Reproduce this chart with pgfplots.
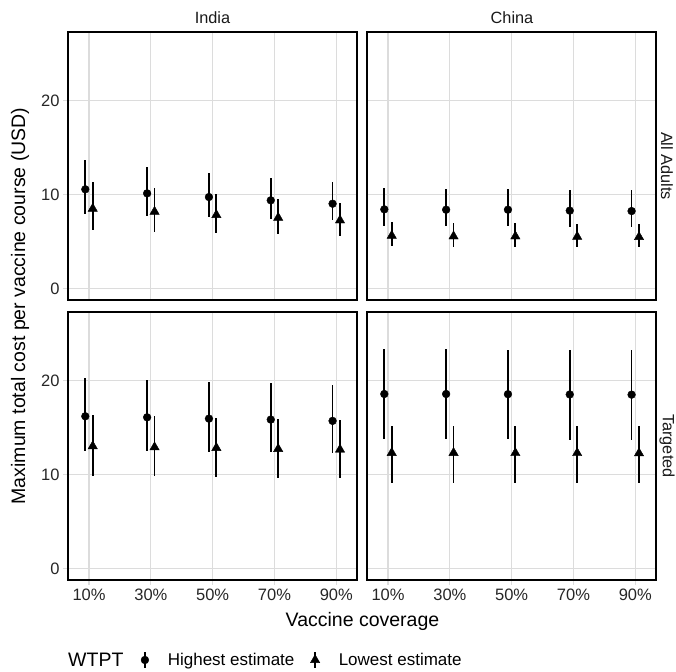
\documentclass[border=0pt]{standalone}
\usepackage{fontspec}
\setmainfont{Liberation Sans}
\usepackage{pgfplots}
\usepackage{pgfplotstable}
\pgfplotsset{compat=1.18}

% cov = vaccine coverage; h* = highest estimate, l* = lowest estimate
\pgfplotstableread{
cov hy    hlo   hhi   ly   llo  lhi
10  10.57 7.98  13.72 8.51 6.20 11.35
30  10.14 7.77  12.98 8.19 6.06 10.67
50  9.75  7.59  12.34 7.84 5.92 10.07
70  9.40  7.45  11.81 7.55 5.78 9.54
90  9.04  7.27  11.31 7.27 5.64 9.08
}\indiaall
\pgfplotstableread{
cov hy   hlo  hhi   ly   llo  lhi
10  8.44 6.70 10.71 5.64 4.50 7.06
30  8.40 6.63 10.64 5.57 4.47 6.99
50  8.40 6.63 10.60 5.57 4.43 6.95
70  8.30 6.60 10.53 5.53 4.43 6.91
90  8.26 6.56 10.46 5.50 4.43 6.88
}\chinaall
\pgfplotstableread{
cov hy    hlo   hhi   ly    llo  lhi
10  16.21 12.57 20.25 13.03 9.81 16.35
30  16.10 12.50 20.07 12.92 9.81 16.21
50  15.96 12.46 19.89 12.85 9.73 16.07
70  15.86 12.39 19.72 12.74 9.70 15.93
90  15.72 12.35 19.54 12.67 9.63 15.79
}\indiatarg
\pgfplotstableread{
cov hy    hlo   hhi   ly    llo  lhi
10  18.58 13.80 23.36 12.32 9.10 15.22
30  18.58 13.78 23.36 12.32 9.10 15.22
50  18.56 13.76 23.30 12.30 9.08 15.20
70  18.53 13.72 23.27 12.30 9.08 15.20
90  18.51 13.70 23.26 12.28 9.07 15.18
}\chinatarg

\definecolor{gridgrey}{RGB}{220,220,220}
\newcommand{\tickfont}{\fontsize{16.5bp}{19bp}\selectfont}
\newcommand{\stripfont}{\fontsize{16.3bp}{19bp}\selectfont}
\newcommand{\titlefont}{\fontsize{19.5bp}{22bp}\selectfont}
\newcommand{\legfont}{\fontsize{17bp}{19bp}\selectfont}

\pgfplotsset{
  panel/.style={
    scale only axis, width=289bp, height=268bp, anchor=south west,
    xmin=3.2, xmax=96.7, ymin=-1.2, ymax=27.3,
    xtick={10,30,50,70,90}, ytick={0,10,20},
    xticklabels={10\%,30\%,50\%,70\%,90\%}, yticklabels={0,10,20},
    /pgf/number format/assume math mode=true,
    grid=major, major grid style={draw=gridgrey, line width=1.3bp},
    axis line style={black, line width=1.5bp},
    tickpos=left, tick align=outside, major tick length=5bp,
    tick style={draw=gridgrey, line width=1.3bp},
    ticklabel style={font=\tickfont, text=black!85},
  },
  hi/.style={only marks, mark=*, mark size=3.9bp, black,
    error bars/.cd, y dir=both, y explicit, error mark=none,
    error bar style={line width=1.8bp, black}},
  lo/.style={only marks, mark=triangle*, mark size=5.4bp, black,
    error bars/.cd, y dir=both, y explicit, error mark=none,
    error bar style={line width=1.8bp, black}},
  noxt/.style={xticklabels={}, xtick style={draw=none}},
  noyt/.style={yticklabels={}, ytick style={draw=none}},
}

\newcommand{\pointranges}[1]{%
  \addplot[hi] table[x expr=\thisrow{cov}-1.2, y=hy,
    y error plus expr=\thisrow{hhi}-\thisrow{hy},
    y error minus expr=\thisrow{hy}-\thisrow{hlo}] {#1};
  \addplot[lo] table[x expr=\thisrow{cov}+1.2, y=ly,
    y error plus expr=\thisrow{lhi}-\thisrow{ly},
    y error minus expr=\thisrow{ly}-\thisrow{llo}] {#1};
}

\begin{document}
\begin{tikzpicture}
\path[use as bounding box] (0,0) rectangle (676bp,672bp);

\begin{axis}[panel, noxt, at={(68bp,372bp)}]
\pointranges{\indiaall}
\end{axis}

\begin{axis}[panel, noxt, noyt, at={(367bp,372bp)}]
\pointranges{\chinaall}
\end{axis}

\begin{axis}[panel, at={(68bp,92bp)},
  legend columns=-1,
  legend style={at={(0.252,-0.2985)}, anchor=west, draw=none, fill=none,
    inner sep=0pt, font=\legfont,
    /tikz/every odd column/.append style={column sep=17bp},
    /tikz/every even column/.append style={column sep=14bp}},
  legend image code/.code={%
    \draw[line width=1.8bp, black] (5bp,-8bp) -- (5bp,8bp);
    \draw[mark repeat=1] plot coordinates {(5bp,0bp)};}]
\pointranges{\indiatarg}
\legend{Highest estimate, Lowest estimate}
\end{axis}

\begin{axis}[panel, noyt, at={(367bp,92bp)}]
\pointranges{\chinatarg}
\end{axis}

% facet strips
\node[font=\stripfont, text=black!90] at (212.5bp,654bp) {India};
\node[font=\stripfont, text=black!90] at (512bp,654bp) {China};
\node[font=\stripfont, text=black!90, rotate=-90] at (667bp,506bp) {All Adults};
\node[font=\stripfont, text=black!90, rotate=-90] at (667bp,226bp) {Targeted};

% axis titles
\node[font=\titlefont, rotate=90] at (20bp,366bp) {Maximum total cost per vaccine course (USD)};
\node[font=\titlefont] at (362.5bp,51bp) {Vaccine coverage};
\node[font=\titlefont, anchor=west, inner sep=0pt] at (68bp,12bp) {WTPT};
\end{tikzpicture}
\end{document}
